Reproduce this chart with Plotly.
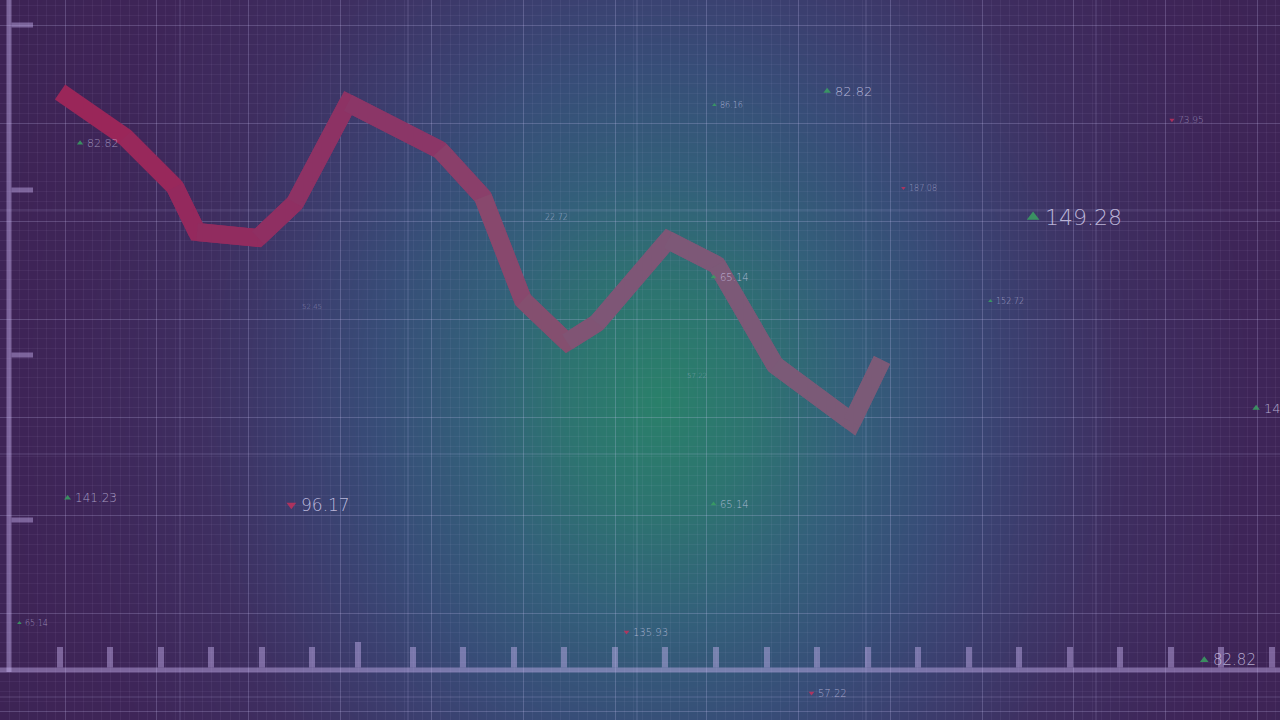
import numpy as np
import plotly.graph_objects as go

W, H = 1280, 720

# ---- price line (time units, price units) ----
line_t = [60, 125, 175, 197, 258, 295, 348, 440, 483, 523, 567, 597, 668, 717, 775, 852, 882]
line_price = [628, 583, 533, 488, 482, 517, 617, 570, 523, 420, 378, 397, 480, 455, 355, 298, 360]

# ---- floating value labels ----
label_text = ["82.82", "86.16", "82.82", "187.08", "73.95", "149.28", "152.72", "14", "22.72",
              "65.14", "52.45", "57.22", "141.23", "96.17", "65.14", "65.14", "135.93", "57.22", "82.82"]
label_t = [85, 718, 833, 907, 1176, 1043, 994, 1262, 543, 718, 300, 685, 73, 299, 718, 23, 631, 816, 1211]
label_price = [577, 615, 629, 532, 600, 503, 419, 312, 503, 443, 413, 344, 222, 215, 216, 97, 88, 27, 60]
label_dir = ["up", "up", "up", "down", "down", "up", "up", "up", "none",
             "up", "none", "none", "up", "down", "up", "up", "down", "down", "up"]

# ---- decorative axes ----
left_tick_price = [695, 530, 365, 200]
bottom_tick_t = [60, 110, 161, 211, 262, 312, 358, 413, 463, 514, 564, 615, 665, 716, 767,
                 817, 868, 918, 969, 1019, 1070, 1120, 1171, 1221, 1272]
tall_tick = 358
left_bar_t = 9
bottom_bar_price = 50

# secondary grid lines
sec_grid_t = [180, 408, 637, 866, 1096]
sec_grid_price = [23, 266, 510]

# ---- styles ----
label_size = [11, 8, 13, 8, 9, 22, 8, 13, 8, 10, 7, 7, 12, 17, 10, 8, 10, 10, 15]
label_alpha = [0.6, 0.7, 0.75, 0.55, 0.5, 0.8, 0.6, 0.75, 0.6, 0.7, 0.45, 0.45, 0.65, 0.8, 0.7, 0.55, 0.65, 0.65, 0.75]
seg_colors = ["#9a2659", "#98285b", "#94295d", "#912c5f", "#8f2f62", "#8d3264", "#8b3667",
              "#8a3f6a", "#88486d", "#844f6f", "#805474", "#7e5676", "#7d5877", "#7c5977",
              "#7b5a77", "#7b5a77"]
GREEN = "#3aa062"
RED = "#c0305c"
FONT = "DejaVu Sans"
AX_COLOR = "rgba(200,180,240,0.45)"

fig = go.Figure()

# background radial glow (style only)
bx = np.linspace(0, W, 129)
by = np.linspace(0, H, 73)
BX, BY = np.meshgrid(bx, by)
cx, cy = 660, 320
dist = np.sqrt(((BX - cx) * 1.08) ** 2 + ((BY - cy) / 1.1) ** 2)
fig.add_trace(go.Heatmap(
    x=bx, y=by, z=dist, zmin=0, zmax=800, zsmooth="best", showscale=False, hoverinfo="skip",
    colorscale=[[0, "#2a806a"], [0.125, "#2d7470"], [0.25, "#33607a"], [0.375, "#374e78"],
                [0.475, "#3b4070"], [0.625, "#3e2e60"], [0.8, "#3e2558"], [1, "#3d2354"]],
    xaxis="x", yaxis="y"))

# price line: overlapping 3-point pieces for clean joins with colour gradient
n = len(line_t)
for i in range(n - 1):
    j = min(i + 3, n)
    fig.add_trace(go.Scatter(
        x=line_t[i:j], y=line_price[i:j], mode="lines",
        line=dict(color=seg_colors[i], width=18),
        hoverinfo="skip", showlegend=False, xaxis="x2", yaxis="y2"))

# label triangles
mk_x, mk_y, mk_sym, mk_col, mk_size = [], [], [], [], []
for t, p, d, s in zip(label_t, label_price, label_dir, label_size):
    if d == "none":
        continue
    mk_x.append(t - 0.45 * s)
    mk_y.append(p)
    mk_sym.append("triangle-up" if d == "up" else "triangle-down")
    mk_col.append(GREEN if d == "up" else RED)
    mk_size.append(max(3, 0.5 * s))
fig.add_trace(go.Scatter(
    x=mk_x, y=mk_y, mode="markers",
    marker=dict(symbol=mk_sym, color=mk_col, size=mk_size, line=dict(width=0), opacity=0.85),
    hoverinfo="skip", showlegend=False, xaxis="x2", yaxis="y2"))

annotations = []
for txt, t, p, s, a in zip(label_text, label_t, label_price, label_size, label_alpha):
    annotations.append(dict(
        x=t, y=p, xref="x2", yref="y2", text=txt, showarrow=False,
        xanchor="left", yanchor="middle",
        font=dict(family=FONT, size=s, color=f"rgba(220,215,245,{a})", weight=200)))

shapes = []
# secondary grid lines
for t in sec_grid_t:
    shapes.append(dict(type="line", xref="x2", yref="y2", x0=t, x1=t, y0=0, y1=H,
                       line=dict(color="rgba(215,205,255,0.2)", width=1), layer="below"))
for p in sec_grid_price:
    shapes.append(dict(type="line", xref="x2", yref="y2", x0=0, x1=W, y0=p, y1=p,
                       line=dict(color="rgba(215,205,255,0.2)", width=1), layer="below"))
# left bar + ticks
shapes.append(dict(type="line", xref="x2", yref="y2", x0=left_bar_t, x1=left_bar_t,
                   y0=bottom_bar_price - 2, y1=H, line=dict(color=AX_COLOR, width=5)))
for p in left_tick_price:
    shapes.append(dict(type="line", xref="x2", yref="y2", x0=left_bar_t + 2.5, x1=33, y0=p, y1=p,
                       line=dict(color=AX_COLOR, width=5)))
# bottom bar + ticks
shapes.append(dict(type="line", xref="x2", yref="y2", x0=0, x1=W, y0=bottom_bar_price, y1=bottom_bar_price,
                   line=dict(color=AX_COLOR, width=5)))
for t in bottom_tick_t:
    top = 78 if t == tall_tick else 73
    shapes.append(dict(type="line", xref="x2", yref="y2", x0=t, x1=t, y0=bottom_bar_price + 2.5, y1=top,
                       line=dict(color=AX_COLOR, width=6)))

grid_major = "rgba(215,205,255,0.22)"
grid_minor = "rgba(215,205,255,0.06)"

fig.update_layout(
    width=W, height=H, margin=dict(l=0, r=0, t=0, b=0),
    paper_bgcolor="#3e2558", plot_bgcolor="rgba(0,0,0,0)",
    showlegend=False,
    xaxis=dict(domain=[0, 1], range=[0, W], visible=False, fixedrange=True),
    yaxis=dict(domain=[0, 1], range=[0, H], visible=False, fixedrange=True),
    xaxis2=dict(domain=[0, 1], range=[0, W], anchor="y2", showgrid=True, gridcolor=grid_major, gridwidth=1,
                tick0=65, dtick=91.7, showticklabels=False, ticks="", zeroline=False, showline=False,
                minor=dict(tick0=65, dtick=9.17, showgrid=True, gridcolor=grid_minor, ticks=""),
                fixedrange=True),
    yaxis2=dict(domain=[0, 1], range=[0, H], anchor="x2", showgrid=True, gridcolor=grid_major, gridwidth=1,
                tick0=9, dtick=98, showticklabels=False, ticks="", zeroline=False, showline=False,
                minor=dict(tick0=9, dtick=9.8, showgrid=True, gridcolor=grid_minor, ticks=""),
                fixedrange=True),
    annotations=annotations, shapes=shapes,
)

fig.write_html("out.html", config={"displayModeBar": False},
               post_script="document.body.style.margin='0';document.body.style.overflow='hidden';")
